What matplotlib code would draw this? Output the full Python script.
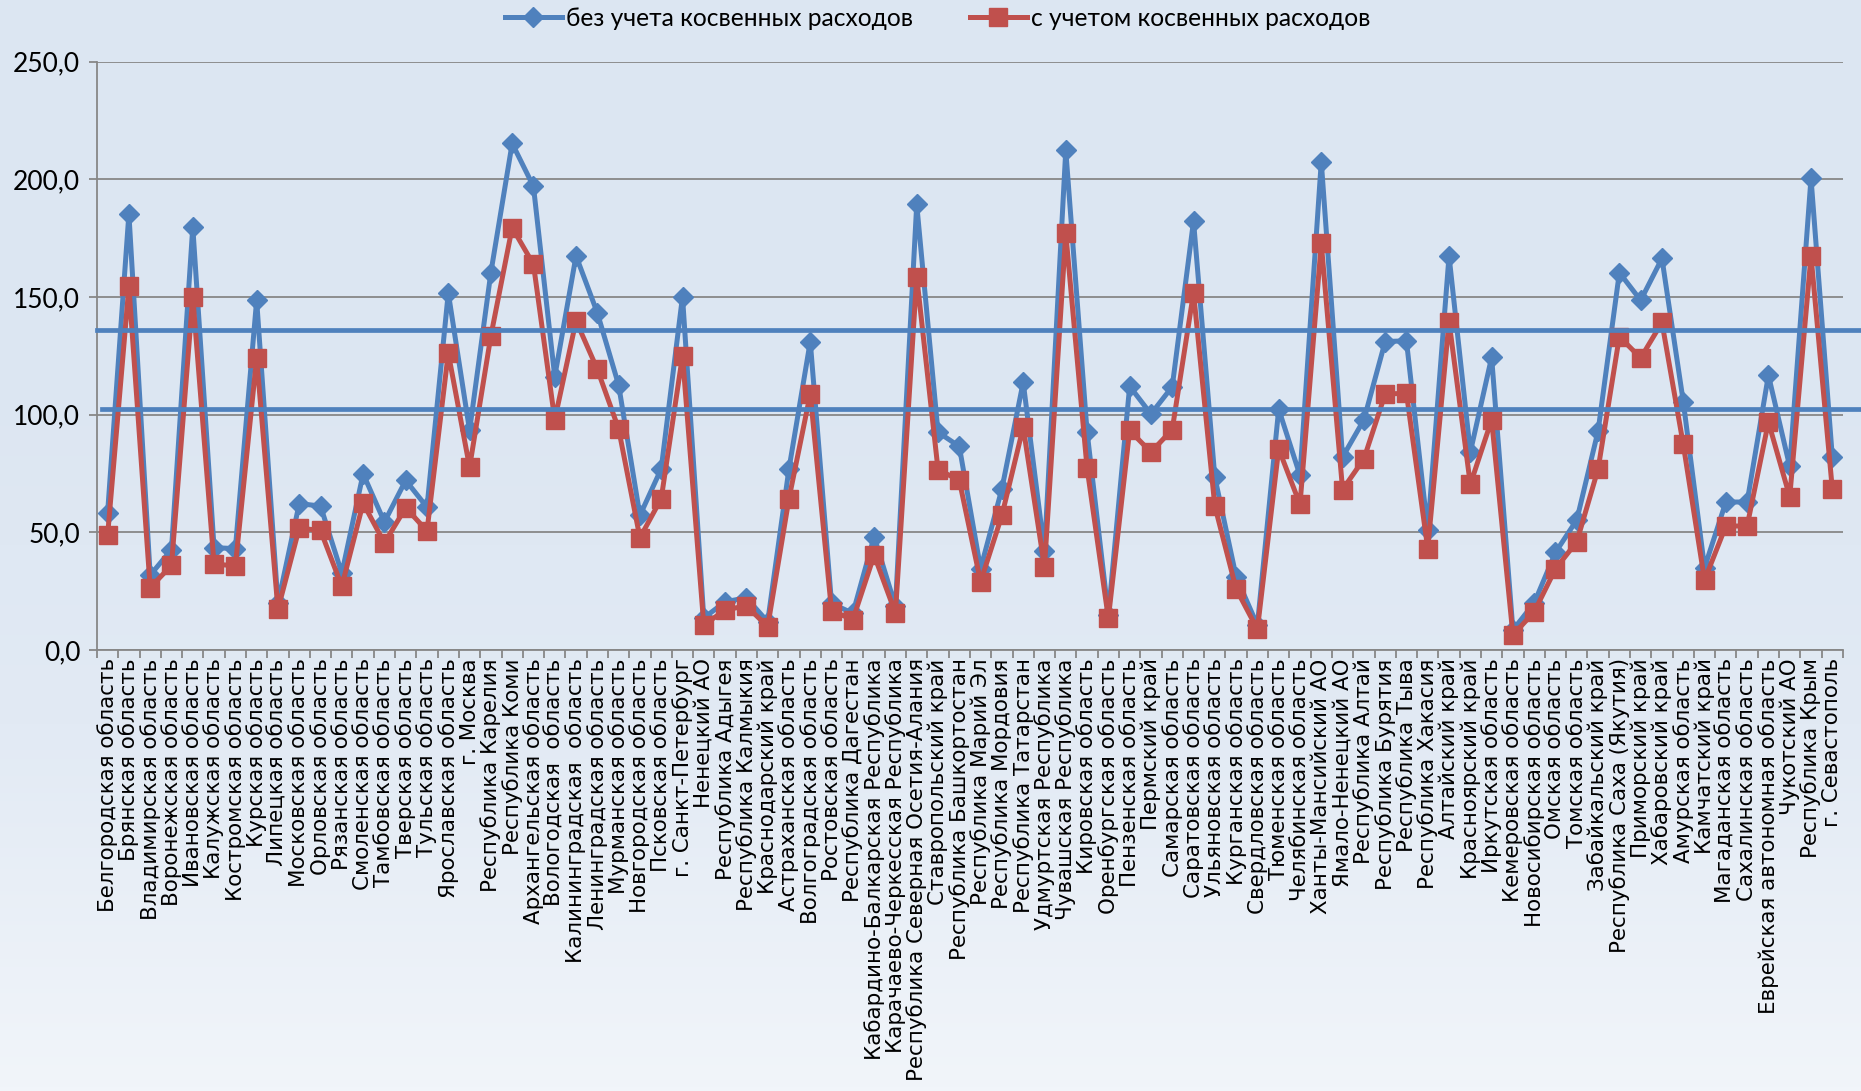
import matplotlib.pyplot as plt
import numpy as np
from matplotlib.colors import LinearSegmentedColormap
from matplotlib.ticker import FixedLocator, FuncFormatter

# Regions (x-axis categories)
regions = [
    'Белгородская область', 'Брянская область', 'Владимирская область',
    'Воронежская область', 'Ивановская область', 'Калужская область',
    'Костромская область', 'Курская область', 'Липецкая область',
    'Московская область', 'Орловская область', 'Рязанская область',
    'Смоленская область', 'Тамбовская область', 'Тверская область',
    'Тульская область', 'Ярославская область', 'г. Москва',
    'Республика Карелия', 'Республика Коми', 'Архангельская область',
    'Вологодская  область', 'Калининградская  область', 'Ленинградская область',
    'Мурманская область', 'Новгородская область', 'Псковская область',
    'г. Санкт-Петербург', 'Ненецкий АО', 'Республика Адыгея',
    'Республика Калмыкия', 'Краснодарский край', 'Астраханская область',
    'Волгоградская область', 'Ростовская область', 'Республика Дагестан',
    'Кабардино-Балкарская Республика', 'Карачаево-Черкесская Республика',
    'Республика Северная Осетия-Алания', 'Ставропольский край',
    'Республика Башкортостан', 'Республика Марий Эл', 'Республика Мордовия',
    'Республика Татарстан', 'Удмуртская Республика', 'Чувашская Республика',
    'Кировская область', 'Оренбургская область', 'Пензенская область',
    'Пермский край', 'Самарская область', 'Саратовская область',
    'Ульяновская область', 'Курганская область', 'Свердловская область',
    'Тюменская область', 'Челябинская область', 'Ханты-Мансийский АО',
    'Ямало-Ненецкий АО', 'Республика Алтай', 'Республика Бурятия',
    'Республика Тыва', 'Республика Хакасия', 'Алтайский край',
    'Красноярский край', 'Иркутская область', 'Кемеровская область',
    'Новосибирская область', 'Омская область', 'Томская область',
    'Забайкальский край', 'Республика Саха (Якутия)', 'Приморский край',
    'Хабаровский край', 'Амурская область', 'Камчатский край',
    'Магаданская область', 'Сахалинская область',
    'Еврейская автономная область', 'Чукотский АО', 'Республика Крым',
    'г. Севастополь',
]

# без учета косвенных расходов
without_indirect = [
    58.3, 185.4, 31.8, 42.7, 179.8, 43.5, 43.1, 148.7, 19.9, 62.2,
    61.2, 32.6, 74.9, 54.4, 72.1, 60.7, 151.8, 93.3, 160.4, 215.3,
    197.0, 116.2, 167.5, 143.3, 112.6, 57.2, 77.0, 150.2, 13.6, 20.5,
    22.2, 12.0, 77.0, 131.1, 19.8, 15.6, 48.2, 18.6, 189.4, 92.6,
    86.5, 34.6, 68.5, 113.8, 42.0, 212.4, 92.8, 15.0, 112.1, 100.3,
    111.9, 182.3, 73.5, 31.2, 10.5, 102.4, 74.2, 207.5, 82.0, 97.8,
    131.1, 131.4, 50.8, 167.5, 84.1, 124.4, 8.5, 20.0, 41.5, 55.3,
    93.1, 160.4, 148.6, 166.4, 105.6, 35.0, 62.9, 62.9, 116.8, 78.0,
    200.5, 82.1,
]

# с учетом косвенных расходов
with_indirect = [
    48.7, 154.5, 26.5, 36.0, 150.1, 36.5, 35.8, 124.1, 17.3, 51.8,
    50.8, 27.1, 62.4, 45.5, 60.5, 50.6, 126.2, 77.7, 133.5, 179.5,
    163.9, 97.9, 139.9, 119.3, 94.0, 47.7, 64.3, 125.1, 10.6, 17.0,
    18.8, 9.9, 64.3, 108.8, 16.7, 12.9, 40.3, 15.7, 158.6, 76.7,
    72.1, 29.0, 57.2, 94.7, 35.3, 177.1, 77.4, 13.5, 93.3, 84.1,
    93.7, 151.9, 61.2, 26.0, 8.8, 85.5, 61.9, 172.8, 68.2, 81.2,
    108.8, 109.1, 43.1, 139.6, 70.4, 97.8, 6.4, 16.2, 34.5, 46.0,
    76.9, 133.2, 124.1, 139.2, 87.4, 29.7, 52.7, 52.7, 96.9, 65.1,
    167.5, 68.4,
]

# reference levels drawn as long horizontal lines
ref_levels = [136.0, 102.5]
y_ticks = [0, 50, 100, 150, 200, 250]

blue = '#4F81BD'
red = '#C0504D'
grid_gray = '#878787'

fig = plt.figure(figsize=(18.61, 10.91), dpi=100)

# gradient background of the whole chart
bg = fig.add_axes([0, 0, 1, 1], zorder=-10)
grad = np.linspace(0, 1, 256).reshape(-1, 1)
cmap = LinearSegmentedColormap.from_list('bg', ['#DCE6F2', '#DCE6F2', '#E2EAF4', '#F1F5FA'])
bg.imshow(grad, aspect='auto', cmap=cmap, extent=[0, 1, 0, 1])
bg.axis('off')

ax = fig.add_axes([0.0521, 0.4042, 0.9382, 0.5392])
ax.patch.set_alpha(0)

x = np.arange(len(regions))
ax.plot(x, without_indirect, color=blue, lw=3.6, marker='D', ms=10,
        mec=blue, label='без учета косвенных расходов', zorder=3)
ax.plot(x, with_indirect, color=red, lw=3.6, marker='s', ms=13,
        mec=red, label='с учетом косвенных расходов', zorder=4)

# horizontal reference lines run past the plot to the right edge
ax.axhline(ref_levels[0], xmin=0, xmax=1.0105, color=blue, lw=3.4,
           clip_on=False, zorder=5)
ax.axhline(ref_levels[1], xmin=0.003, xmax=1.0105, color=blue, lw=3.4,
           clip_on=False, zorder=5)

ax.set_xlim(-0.5, len(regions) - 0.5)
ax.set_ylim(0, 250)
ax.set_yticks(y_ticks)
ax.yaxis.set_major_formatter(FuncFormatter(lambda v, p: f'{v:.1f}'.replace('.', ',')))
ax.grid(axis='y', color=grid_gray, lw=1.3)
ax.set_axisbelow(True)

# ticks between categories, labels at centres
ax.xaxis.set_major_locator(FixedLocator(np.arange(len(regions) + 1) - 0.5))
ax.xaxis.set_minor_locator(FixedLocator(x))
ax.set_xticklabels([])
ax.set_xticklabels(regions, minor=True, rotation=90, fontsize=15.4,
                   family='DejaVu Sans')
ax.tick_params(axis='x', which='major', length=6, width=1.3, color=grid_gray)
ax.tick_params(axis='x', which='minor', length=0, pad=6)
ax.tick_params(axis='y', length=6, width=1.3, color=grid_gray, pad=6)
for lab in ax.get_yticklabels():
    lab.set_family('Lato')
    lab.set_fontsize(19)

for s in ['top', 'right']:
    ax.spines[s].set_visible(False)
for s in ['left', 'bottom']:
    ax.spines[s].set_color(grid_gray)
    ax.spines[s].set_linewidth(1.3)

fig.legend(loc='center', bbox_to_anchor=(0.504, 0.9835), ncol=2,
           frameon=False, prop={'family': 'Lato', 'size': 17.7},
           handlelength=2.3, handletextpad=0.2, columnspacing=2.3)

fig.savefig('out.png', dpi=100)
